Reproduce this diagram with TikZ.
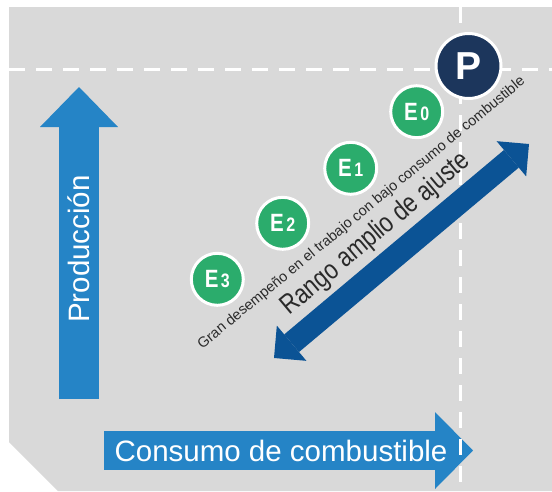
\documentclass[tikz,border=0pt]{standalone}
\usepackage{fontspec}
\setmainfont{Liberation Sans}
\newfontfamily\narrowfont[FakeStretch=0.82]{Liberation Sans}
\usetikzlibrary{arrows.meta}
\definecolor{panel}{HTML}{D9D9D9}
\definecolor{axisblue}{HTML}{2584C6}
\definecolor{rangeblue}{HTML}{0B5395}
\definecolor{pblue}{HTML}{1C365C}
\definecolor{egreen}{HTML}{2BAC6C}
\definecolor{label}{HTML}{2A2A2A}

\tikzset{
  guide/.style={white, line width=3pt, dash pattern=on 16pt off 11pt},
  ebubble/.style={circle, fill=egreen, draw=white, line width=3pt, minimum size=52pt,
    inner sep=0pt, text=white, font=\narrowfont\bfseries},
}
\newcommand{\elabel}[1]{{\fontsize{25}{25}\selectfont E}\kern2.5pt{\fontsize{19.5}{19.5}\selectfont #1}}

\begin{document}
\begin{tikzpicture}[x=1pt, y=-1pt]
  \useasboundingbox (0,0) rectangle (552,491);
  \fill[panel] (9,7) -- (552,7) -- (552,491) -- (58,491) -- (9,442) -- cycle;

  % axes
  \coordinate (prodlo) at (79,399);
  \coordinate (prodhi) at (79,87);
  \coordinate (conslo) at (104,450.5);
  \coordinate (conshi) at (473,450.5);
  \draw[axisblue, line width=40pt, -{Triangle[width=78pt,length=40pt,line width=0pt]}] (prodlo) -- (prodhi);
  \draw[axisblue, line width=39pt, -{Triangle[width=77pt,length=38pt,line width=0pt]}] (conslo) -- (conshi);
  \node[rotate=90, text=white, font=\fontsize{29.5}{30}\selectfont] (prodtext) at (79,249) {Producción};
  \node[text=white, font=\fontsize{29.5}{30}\selectfont] (constext) at (281,451) {Consumo de combustible};

  \draw[guide] (9,69) -- (552,69);
  \draw[guide] (460,7) -- (460,491);

  % range of adjustment
  \coordinate (rangelo) at (274,358);
  \coordinate (rangehi) at (529,144);
  \draw[rangeblue, line width=23pt,
    {Triangle[width=46pt,length=23pt,line width=0pt]}-{Triangle[width=46pt,length=23pt,line width=0pt]}]
    (rangelo) -- (rangehi);
  \node[rotate=40, anchor=base, text=label, font=\narrowfont\fontsize{27.5}{28}\selectfont] (rangotext) at (380.5,239.5) {Rango amplio de ajuste};
  \node[rotate=39.5, anchor=base, text=label, font=\fontsize{14.5}{15}\selectfont] (grantext) at (364,216)
    {Gran desempeño en el trabajo con bajo consumo de combustible};

  % modes
  \node[ebubble] (e3) at (217.3,279.3) {\elabel{3}};
  \node[ebubble] (e2) at (282.7,223.3) {\elabel{2}};
  \node[ebubble] (e1) at (350.7,168.3) {\elabel{1}};
  \node[ebubble] (e0) at (416.7,111.7) {\elabel{0}};
  \node[circle, fill=pblue, draw=white, line width=3pt, minimum size=65pt, inner sep=0pt,
    text=white, font=\bfseries\fontsize{39}{39}\selectfont] (p) at (468.5,66) {P};
\end{tikzpicture}
\end{document}
